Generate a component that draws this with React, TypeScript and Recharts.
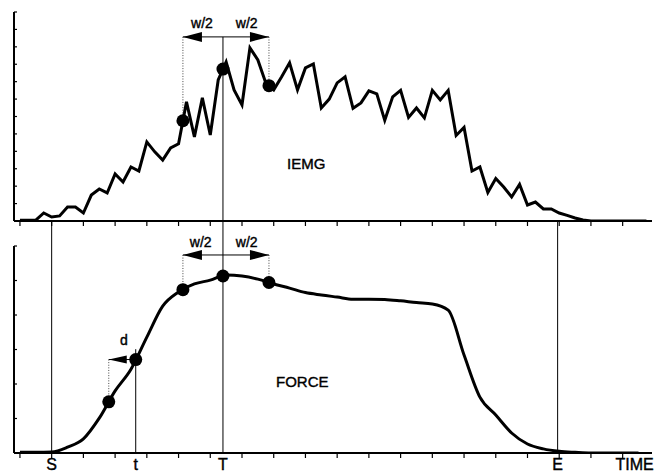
import { LineChart, Line, XAxis, YAxis, ReferenceLine, ReferenceDot } from "recharts";

const W = 662;
const H = 475;
const font = '"Liberation Sans", Arial, sans-serif';

// sample index runs along the time axis, one axis tick every 4 samples
const xDomain: [number, number] = [-0.75, 79.7];
const timeTicks = [0, 4, 8, 12, 16, 20, 24, 28, 32, 36, 40, 44, 48, 52, 56, 60, 64, 68, 72, 76];
const iemgTicks = [0, 1, 2, 3, 4, 5, 6, 7, 8, 9, 10, 11, 12];
const forceTicks = [0, 1, 2, 3, 4, 5, 6];

const iemg = [
  0.05, 0.05, 0.05, 0.46, 0.23, 0.29, 0.8, 0.8, 0.46, 1.49,
  1.84, 1.61, 2.7, 2.24, 3.1, 2.87, 4.54, 3.97, 3.5, 4.2,
  4.43, 6.84, 4.83, 7.07, 4.94, 8.1, 9.14, 7.53, 6.67, 9.94,
  9.25, 7.93, 7.53, 8.28, 9.08, 7.53, 8.79, 9.02, 6.49, 7.0,
  7.93, 8.28, 6.47, 6.78, 7.47, 7.3, 5.78, 7.13, 7.5, 5.95,
  6.49, 5.92, 7.5, 6.95, 7.5, 4.91, 5.37, 2.87, 3.1, 1.64,
  2.44, 1.95, 1.38, 2.1, 0.92, 1.09, 0.69, 0.69, 0.46, 0.32,
  0.17, 0.06, 0, 0, 0, 0, 0, 0, 0, 0,
];

const forceT = [
  0, 2, 4, 6, 8, 10, 12, 14, 16, 18, 20, 22, 24, 26, 28, 30, 32, 34, 36, 38,
  40, 42, 44, 46, 48, 50, 52, 54, 56, 58, 60, 62, 64, 66, 68, 70, 72, 74, 76, 78,
];
const force = [
  0.02, 0.02, 0.03, 0.17, 0.41, 1.01, 1.8, 2.43, 3.36, 4.26,
  4.67, 4.9, 5.01, 5.16, 5.13, 5.04, 4.9, 4.78, 4.65, 4.58,
  4.52, 4.46, 4.46, 4.45, 4.41, 4.36, 4.32, 4.14, 2.84, 1.62,
  1.1, 0.58, 0.26, 0.12, 0.05, 0.02, 0, 0, 0, 0,
];

// event times
const tS = 4;
const tSmall = 14.6;
const tT = 25.6;
const tE = 67.8;
const tD = 11.2;
const halfL = 20.55;
const halfR = 31.4;
const timeLabelAt = 77.5;
const axisLabels = ["S", "t", "T", "E", "TIME"];
const axisLabelTicks = [tS, tSmall, tT, tE, timeLabelAt];

const iemgTop = 12;
const forceTop = 6.725; // value at the gap between the two panels

function interp(xs: number[], ys: number[], x: number) {
  for (let i = 0; i < xs.length - 1; i++) {
    if (x >= xs[i] && x <= xs[i + 1]) {
      const f = (x - xs[i]) / (xs[i + 1] - xs[i]);
      return ys[i] + f * (ys[i + 1] - ys[i]);
    }
  }
  return 0;
}

const iemgX = iemg.map((_, i) => i);
const iemgData = iemg.map((v, i) => ({ t: i, v }));
const forceData = force.map((v, i) => ({ t: forceT[i], v }));

const head = (dir: number, len = 19, half = 5) => (p: any) => {
  const back = p.cx - dir * len;
  return <path d={`M${p.cx},${p.cy}L${back},${p.cy - half}L${back},${p.cy + half}Z`} fill="#000" />;
};

const word = (s: string, size = 14) => (p: any) => (
  <text
    x={p.cx}
    y={p.cy}
    textAnchor="middle"
    dominantBaseline="central"
    fontSize={size}
    fontFamily={font}
    fill="#000"
    stroke="#000"
    strokeWidth={0.4}
  >
    {s}
  </text>
);

const axisStyle = { stroke: "#000", strokeWidth: 2 };
const tickStyle = { stroke: "#000", strokeWidth: 1.2 };
const dotted = { stroke: "#444", strokeWidth: 1, strokeDasharray: "1 1.6" };

export default function App() {
  const topArrow = 10.57;
  const topLabel = 11.38;
  const eL = interp(iemgX, iemg, halfL);
  const eT = interp(iemgX, iemg, tT);
  const eR = interp(iemgX, iemg, halfR);

  const botArrow = 5.74;
  const botLabel = 6.12;
  const fL = interp(forceT, force, halfL);
  const fT = interp(forceT, force, tT);
  const fR = interp(forceT, force, halfR);
  const ft = interp(forceT, force, tSmall);
  const fd = interp(forceT, force, tD);

  return (
    <div style={{ position: "absolute", left: 0, top: 0, width: W, height: H, background: "#fff" }}>
      <div style={{ position: "absolute", left: 0, top: 0 }}>
        <LineChart width={W} height={H} data={iemgData} margin={{ top: 12, right: 10, bottom: 246, left: 14 }}>
          <XAxis
            dataKey="t"
            type="number"
            domain={xDomain}
            allowDataOverflow
            ticks={timeTicks}
            interval={0}
            tickFormatter={() => ""}
            height={8}
            tickSize={5}
            axisLine={axisStyle}
            tickLine={tickStyle}
          />
          <YAxis
            type="number"
            domain={[0, iemgTop]}
            allowDataOverflow
            ticks={iemgTicks}
            interval={0}
            width={10}
            mirror
            tickSize={3}
            tickFormatter={() => ""}
            axisLine={axisStyle}
            tickLine={tickStyle}
          />
          <Line dataKey="v" type="linear" stroke="#000" strokeWidth={3} dot={false} isAnimationActive={false} />
          <ReferenceLine segment={[{ x: tT, y: topArrow }, { x: tT, y: 0 }]} stroke="#000" strokeWidth={1} />
          <ReferenceLine segment={[{ x: halfL, y: topArrow }, { x: halfL, y: eL }]} {...dotted} />
          <ReferenceLine segment={[{ x: halfR, y: topArrow }, { x: halfR, y: eR }]} {...dotted} />
          <ReferenceLine segment={[{ x: halfL, y: topArrow }, { x: halfR, y: topArrow }]} stroke="#000" strokeWidth={1} />
          <ReferenceDot x={halfL} y={topArrow} r={5} shape={head(-1)} />
          <ReferenceDot x={halfR} y={topArrow} r={5} shape={head(1)} />
          <ReferenceDot x={22.95} y={topLabel} r={1} shape={word("w/2")} />
          <ReferenceDot x={28.6} y={topLabel} r={1} shape={word("w/2")} />
          <ReferenceDot x={halfL} y={eL} r={6.5} fill="#000" stroke="none" />
          <ReferenceDot x={tT} y={eT} r={6.5} fill="#000" stroke="none" />
          <ReferenceDot x={halfR} y={eR} r={6.5} fill="#000" stroke="none" />
          <ReferenceDot x={36.1} y={3.33} r={1} shape={word("IEMG", 15)} />
        </LineChart>
      </div>
      <div style={{ position: "absolute", left: 0, top: 0 }}>
        <LineChart width={W} height={H} data={forceData} margin={{ top: 221, right: 10, bottom: 0, left: 14 }}>
          <XAxis
            xAxisId="a"
            dataKey="t"
            type="number"
            domain={xDomain}
            allowDataOverflow
            ticks={timeTicks}
            interval={0}
            tickFormatter={() => ""}
            height={6}
            tickSize={5}
            axisLine={axisStyle}
            tickLine={tickStyle}
          />
          <XAxis
            xAxisId="b"
            dataKey="t"
            type="number"
            domain={xDomain}
            allowDataOverflow
            ticks={axisLabelTicks}
            interval={0}
            tickFormatter={(_v: number, i: number) => axisLabels[i]}
            height={16}
            tickSize={0}
            tickMargin={0}
            axisLine={false}
            tickLine={false}
            tick={{ fill: "#000", stroke: "#000", strokeWidth: 0.4, fontSize: 16, fontFamily: font }}
          />
          <YAxis
            type="number"
            domain={[0, forceTop]}
            allowDataOverflow
            ticks={forceTicks}
            interval={0}
            width={10}
            mirror
            tickSize={3}
            tickFormatter={() => ""}
            axisLine={false}
            tickLine={tickStyle}
          />
          <Line xAxisId="a" dataKey="v" type="monotone" stroke="#000" strokeWidth={3} dot={false} isAnimationActive={false} />
          <ReferenceLine xAxisId="a" segment={[{ x: xDomain[0], y: 0 }, { x: xDomain[0], y: 6 }]} {...axisStyle} />
          <ReferenceLine xAxisId="a" segment={[{ x: tS, y: forceTop }, { x: tS, y: 0 }]} stroke="#000" strokeWidth={1} />
          <ReferenceLine xAxisId="a" segment={[{ x: tT, y: forceTop }, { x: tT, y: 0 }]} stroke="#000" strokeWidth={1} />
          <ReferenceLine xAxisId="a" segment={[{ x: tE, y: forceTop }, { x: tE, y: 0 }]} stroke="#000" strokeWidth={1} />
          <ReferenceLine xAxisId="a" segment={[{ x: tSmall, y: ft + 0.3 }, { x: tSmall, y: 0 }]} stroke="#000" strokeWidth={1} />
          <ReferenceLine xAxisId="a" segment={[{ x: halfL, y: botArrow }, { x: halfL, y: fL }]} {...dotted} />
          <ReferenceLine xAxisId="a" segment={[{ x: halfR, y: botArrow }, { x: halfR, y: fR }]} {...dotted} />
          <ReferenceLine xAxisId="a" segment={[{ x: halfL, y: botArrow }, { x: halfR, y: botArrow }]} stroke="#000" strokeWidth={1} />
          <ReferenceLine xAxisId="a" segment={[{ x: tD, y: ft }, { x: tD, y: fd }]} {...dotted} />
          <ReferenceLine xAxisId="a" segment={[{ x: tD, y: ft }, { x: tSmall, y: ft }]} stroke="#000" strokeWidth={1} />
          <ReferenceDot xAxisId="a" x={halfL} y={botArrow} r={5} shape={head(-1)} />
          <ReferenceDot xAxisId="a" x={halfR} y={botArrow} r={5} shape={head(1)} />
          <ReferenceDot xAxisId="a" x={tD} y={ft} r={5} shape={head(-1, 18, 4)} />
          <ReferenceDot xAxisId="a" x={22.8} y={botLabel} r={1} shape={word("w/2")} />
          <ReferenceDot xAxisId="a" x={28.6} y={botLabel} r={1} shape={word("w/2")} />
          <ReferenceDot xAxisId="a" x={13.1} y={3.28} r={1} shape={word("d")} />
          <ReferenceDot xAxisId="a" x={halfL} y={fL} r={6.5} fill="#000" stroke="none" />
          <ReferenceDot xAxisId="a" x={tT} y={fT} r={6.5} fill="#000" stroke="none" />
          <ReferenceDot xAxisId="a" x={halfR} y={fR} r={6.5} fill="#000" stroke="none" />
          <ReferenceDot xAxisId="a" x={tSmall} y={ft} r={6.5} fill="#000" stroke="none" />
          <ReferenceDot xAxisId="a" x={tD} y={fd} r={6.5} fill="#000" stroke="none" />
          <ReferenceDot xAxisId="a" x={35.6} y={2.06} r={1} shape={word("FORCE", 15)} />
        </LineChart>
      </div>
    </div>
  );
}
